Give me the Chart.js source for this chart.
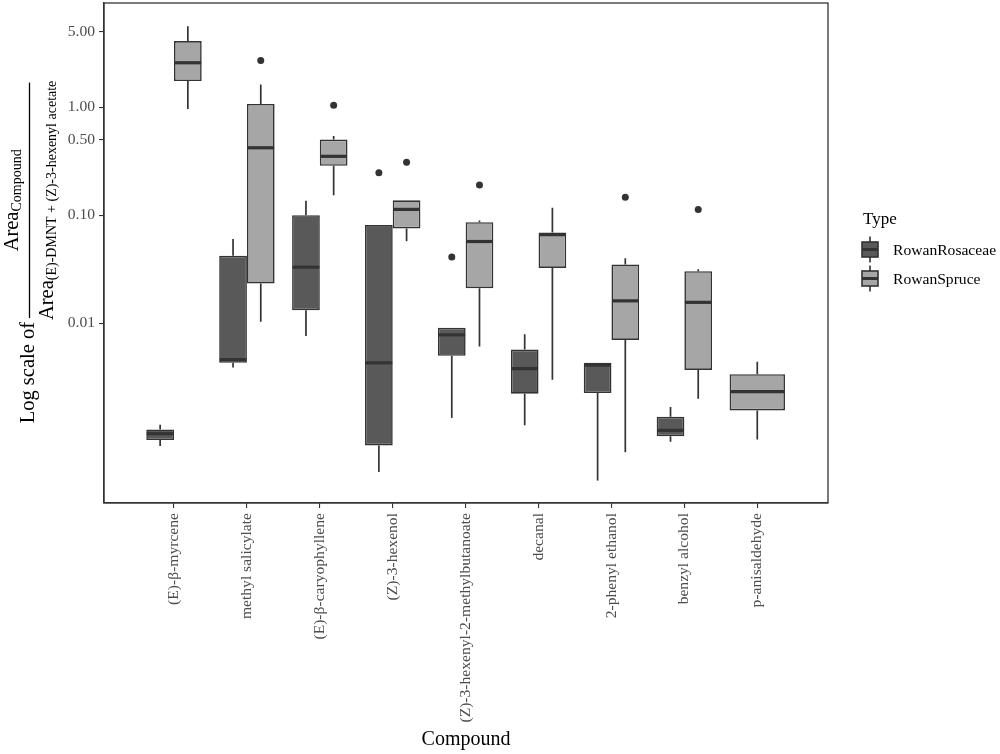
<!DOCTYPE html>
<html>
<head>
<meta charset="utf-8">
<script src="https://cdn.jsdelivr.net/npm/chart.js@4.4.1/dist/chart.umd.min.js"></script>
<style>
html,body{margin:0;padding:0;background:#fff;}
#wrap{width:1000px;height:754px;position:relative;}
</style>
</head>
<body>
<div id="wrap"><canvas id="c"></canvas></div>
<script>
// ---- data ----
const categories = ['(E)-β-myrcene','methyl salicylate','(E)-β-caryophyllene','(Z)-3-hexenol','(Z)-3-hexenyl-2-methylbutanoate','decanal','2-phenyl ethanol','benzyl alcohol','p-anisaldehyde'];
const seriesNames = ['RowanRosaceae','RowanSpruce'];
const legendTitle = 'Type';
const xTitle = 'Compound';
const yTicks = [0.01, 0.1, 0.5, 1, 5];

const rosaceaeMin = [0.00073, 0.0039, 0.0076, 0.00042, 0.00133, 0.00114, 0.00035, 0.00080, null];
const rosaceaeQ1  = [0.00083, 0.0043, 0.0132, 0.00074, 0.0050, 0.00223, 0.00226, 0.00090, null];
const rosaceaeMed = [0.00095, 0.0046, 0.033, 0.0043, 0.0078, 0.0038, 0.0041, 0.00102, null];
const rosaceaeQ3  = [0.00104, 0.042, 0.100, 0.081, 0.0091, 0.0057, 0.0043, 0.00136, null];
const rosaceaeMax = [0.00115, 0.060, 0.136, 0.081, 0.0091, 0.0079, 0.0043, 0.00168, null];
const rosaceaeOut = [[], [], [], [0.247], [0.041], [], [], [], []];

const spruceMin = [0.96, 0.0103, 0.153, 0.0574, 0.0061, 0.0030, 0.00064, 0.0020, 0.00084];
const spruceQ1  = [1.74, 0.0233, 0.286, 0.0753, 0.0211, 0.0325, 0.0070, 0.0037, 0.00156];
const spruceMed = [2.57, 0.42, 0.35, 0.113, 0.057, 0.066, 0.0161, 0.0156, 0.00233];
const spruceQ3  = [4.08, 1.07, 0.50, 0.137, 0.086, 0.069, 0.035, 0.0303, 0.00337];
const spruceMax = [5.6, 1.62, 0.54, 0.137, 0.089, 0.117, 0.040, 0.0316, 0.0044];
const spruceOut = [[], [2.7], [1.04], [0.308], [0.19], [], [0.146], [0.113], []];

// ---- styles ----
const SERIF = "'Liberation Serif', 'DejaVu Serif', serif";
const EDGE = '#333333';
const fills = ['#595959', '#A6A6A6'];

const stats = [
  {min: rosaceaeMin, q1: rosaceaeQ1, med: rosaceaeMed, q3: rosaceaeQ3, max: rosaceaeMax, out: rosaceaeOut},
  {min: spruceMin, q1: spruceQ1, med: spruceMed, q3: spruceQ3, max: spruceMax, out: spruceOut}
];

function boxData(st) {
  return categories.map((c, i) => ({x: i + 1, y: st.q1[i] == null ? null : [st.q1[i], st.q3[i]]}));
}

const boxExtras = {
  id: 'boxExtras',
  afterDatasetsDraw(chart) {
    const ctx = chart.ctx, y = chart.scales.y;
    stats.forEach((st, di) => {
      const meta = chart.getDatasetMeta(di);
      meta.data.forEach((bar, i) => {
        if (st.med[i] == null) return;
        const p = bar.getProps(['x', 'width'], true);
        const x = p.x, half = p.width / 2;
        ctx.save();
        ctx.strokeStyle = EDGE;
        ctx.lineCap = 'butt';
        ctx.lineWidth = 1.7;
        ctx.beginPath();
        ctx.moveTo(x, y.getPixelForValue(st.q3[i])); ctx.lineTo(x, y.getPixelForValue(st.max[i]));
        ctx.moveTo(x, y.getPixelForValue(st.q1[i])); ctx.lineTo(x, y.getPixelForValue(st.min[i]));
        ctx.stroke();
        const ym = y.getPixelForValue(st.med[i]);
        ctx.lineWidth = 3.2;
        ctx.beginPath(); ctx.moveTo(x - half + 0.5, ym); ctx.lineTo(x + half - 0.5, ym); ctx.stroke();
        ctx.fillStyle = EDGE;
        (st.out[i] || []).forEach(v => {
          ctx.beginPath(); ctx.arc(x, y.getPixelForValue(v), 3.5, 0, Math.PI * 2); ctx.fill();
        });
        ctx.restore();
      });
    });
  }
};

const framePlugin = {
  id: 'frame',
  afterDraw(chart) {
    const a = chart.chartArea, ctx = chart.ctx;
    ctx.save();
    ctx.strokeStyle = EDGE; ctx.lineWidth = 1.3;
    ctx.strokeRect(a.left, a.top, a.right - a.left, a.bottom - a.top);
    ctx.restore();
  }
};

const legendPlugin = {
  id: 'typeLegend',
  afterDraw(chart) {
    const a = chart.chartArea, ctx = chart.ctx;
    const x0 = a.right + 34, cy = (a.top + a.bottom) / 2;
    ctx.save();
    ctx.fillStyle = '#000'; ctx.textAlign = 'left'; ctx.textBaseline = 'alphabetic';
    ctx.font = '17px ' + SERIF;
    ctx.fillText(legendTitle, x0 + 1, cy - 29);
    seriesNames.forEach((name, k) => {
      const yc = cy - 3.5 + k * 29;
      ctx.strokeStyle = EDGE; ctx.lineWidth = 1.6;
      ctx.beginPath(); ctx.moveTo(x0 + 8, yc - 13); ctx.lineTo(x0 + 8, yc + 13); ctx.stroke();
      ctx.fillStyle = fills[k];
      ctx.fillRect(x0, yc - 7.5, 16, 15);
      ctx.strokeRect(x0, yc - 7.5, 16, 15);
      ctx.lineWidth = 3;
      ctx.beginPath(); ctx.moveTo(x0, yc); ctx.lineTo(x0 + 16, yc); ctx.stroke();
      ctx.fillStyle = '#000'; ctx.textBaseline = 'middle';
      ctx.font = '15.6px ' + SERIF;
      ctx.fillText(name, x0 + 31, yc + 1);
      ctx.textBaseline = 'alphabetic';
    });
    ctx.restore();
  }
};

const yTitlePlugin = {
  id: 'yTitle',
  afterDraw(chart) {
    const a = chart.chartArea, ctx = chart.ctx;
    const cy = (a.top + a.bottom) / 2 - 1;
    const prefix = 'Log scale of';
    const numSub = 'Compound';
    const denSub = '(E)-DMNT + (Z)-3-hexenyl acetate';
    const big = '20.5px ' + SERIF, small = '14px ' + SERIF;
    ctx.save();
    ctx.font = big;
    const wLog = ctx.measureText(prefix).width + 2;
    const wArea = ctx.measureText('Area').width;
    ctx.font = small;
    const wNum = wArea + ctx.measureText(numSub).width;
    const wDen = wArea + ctx.measureText(denSub).width;
    const W = Math.max(wNum, wDen);
    const total = wLog + W;
    ctx.rotate(-Math.PI / 2);
    ctx.fillStyle = '#000'; ctx.textAlign = 'left'; ctx.textBaseline = 'alphabetic';
    const u0 = -(cy + total / 2);
    ctx.font = big;
    ctx.fillText(prefix, u0, 34);
    const f0 = u0 + wLog;
    ctx.strokeStyle = '#000'; ctx.lineWidth = 1.3;
    ctx.beginPath(); ctx.moveTo(f0 + 2, 29.5); ctx.lineTo(f0 + W - 2, 29.5); ctx.stroke();
    const nu = f0 + (W - wNum) / 2;
    ctx.font = big; ctx.fillText('Area', nu, 18);
    ctx.font = small; ctx.fillText(numSub, nu + wArea, 21);
    const du = f0 + (W - wDen) / 2;
    ctx.font = big; ctx.fillText('Area', du, 53);
    ctx.font = small; ctx.fillText(denSub, du + wArea, 56);
    ctx.restore();
  }
};

const tickFont = {family: SERIF, size: 15.6};

new Chart(document.getElementById('c'), {
  type: 'bar',
  data: {
    datasets: seriesNames.map((name, k) => ({
      label: name,
      data: boxData(stats[k]),
      backgroundColor: fills[k],
      borderColor: EDGE,
      borderWidth: 1.6,
      borderSkipped: false,
      skipNull: true,
      categoryPercentage: 0.76,
      barPercentage: 1
    }))
  },
  options: {
    responsive: true,
    maintainAspectRatio: false,
    animation: false,
    layout: {padding: {left: 0, right: 172, top: 3, bottom: 0}},
    plugins: {legend: {display: false}, tooltip: {enabled: false}},
    scales: {
      x: {
        type: 'linear', min: 0.04, max: 9.97, offset: false,
        grid: {offset: false, drawOnChartArea: false, drawTicks: true, tickLength: 5, color: EDGE, lineWidth: 1.1},
        border: {display: true, color: EDGE, width: 1.3},
        afterBuildTicks: s => { s.ticks = categories.map((c, i) => ({value: i + 1})); },
        afterFit: s => { s.height = 251; s.paddingLeft = 0; s.paddingRight = 0; },
        ticks: {
          autoSkip: false, minRotation: 90, maxRotation: 90, padding: 5,
          color: '#4D4D4D', font: tickFont,
          callback: v => categories[v - 1]
        },
        title: {display: true, text: xTitle, color: '#000', font: {family: SERIF, size: 20}, padding: {top: 0, bottom: 2}}
      },
      y: {
        type: 'logarithmic', min: 0.000217, max: 9.18,
        grid: {drawOnChartArea: false, drawTicks: true, tickLength: 5, color: EDGE, lineWidth: 1.1},
        border: {display: true, color: EDGE, width: 1.3},
        afterBuildTicks: s => { s.ticks = yTicks.map(v => ({value: v})); },
        afterFit: s => { s.width = 104; s.paddingTop = 0; s.paddingBottom = 0; },
        ticks: {padding: 4, color: '#4D4D4D', font: tickFont, callback: v => Number(v).toFixed(2)}
      }
    }
  },
  plugins: [boxExtras, framePlugin, legendPlugin, yTitlePlugin]
});
</script>
</body>
</html>
